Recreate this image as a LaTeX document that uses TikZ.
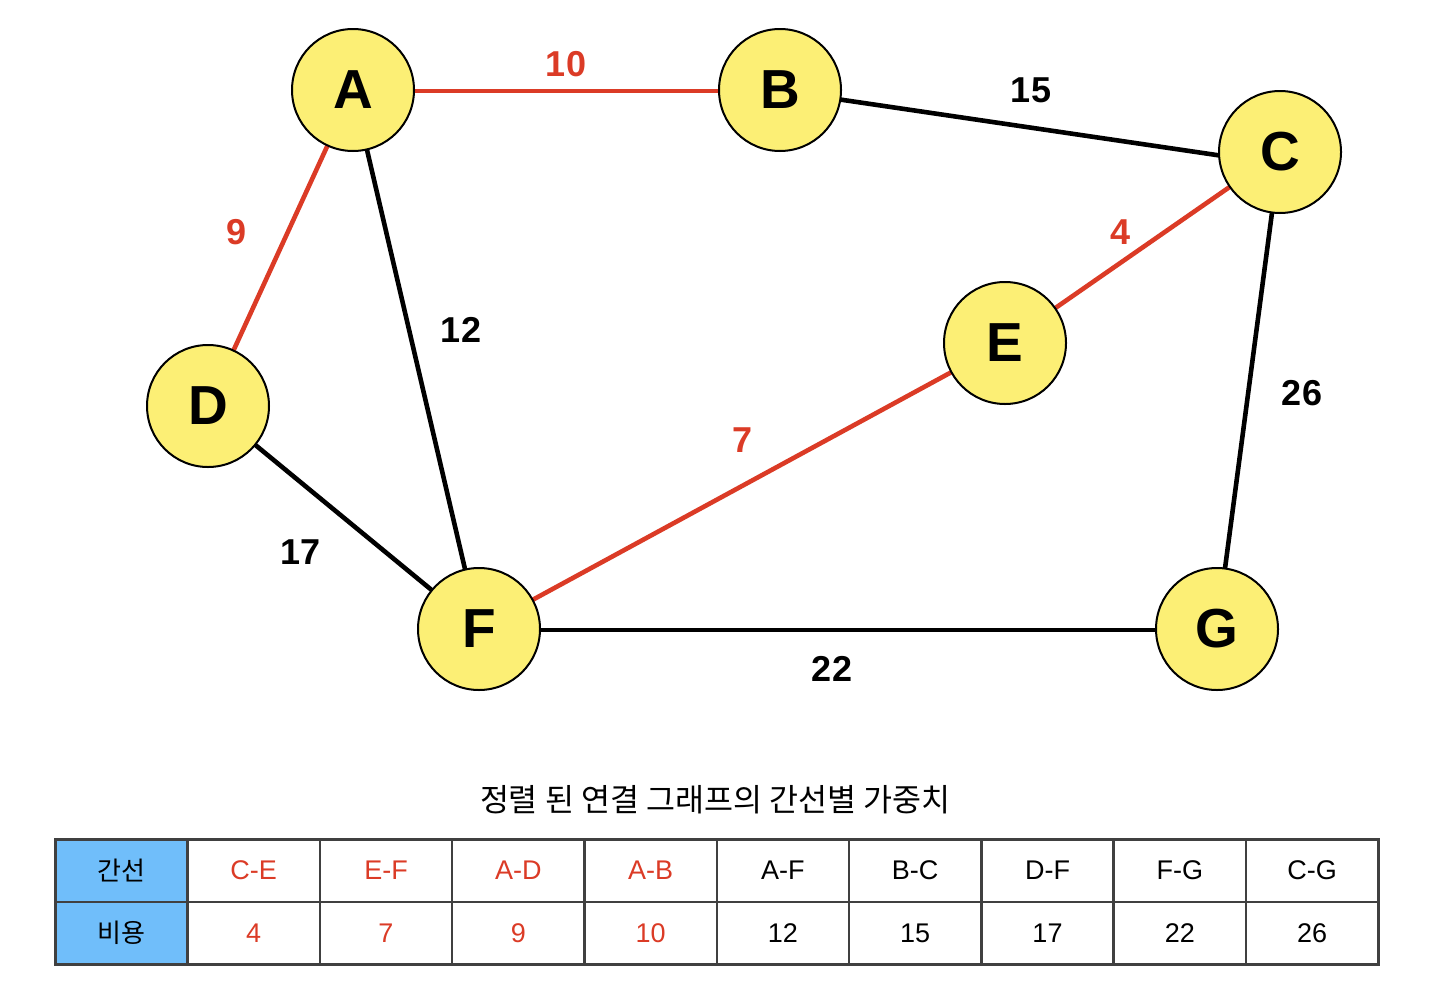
\documentclass[tikz,border=0pt]{standalone}
\usepackage{fontspec}
\setmainfont{Liberation Sans}
\newfontfamily\kr{Noto Sans CJK KR}
\usetikzlibrary{backgrounds}
\definecolor{nodeyellow}{RGB}{252,239,117}
\definecolor{edgered}{RGB}{219,59,38}
\definecolor{cellblue}{RGB}{112,190,250}
\definecolor{gridgray}{RGB}{64,64,64}
\begin{document}
\begin{tikzpicture}[x=1pt,y=-1pt,
  vertex/.style={circle,draw=black,line width=2pt,fill=nodeyellow,minimum size=122pt,inner sep=0pt,font=\fontsize{55}{55}\selectfont\bfseries},
  edgeblack/.style={draw=black,line width=4.6pt,shorten <=-1pt,shorten >=-1pt},
  edgered/.style={draw=edgered,line width=4.6pt,shorten <=-1pt,shorten >=-1pt},
  wlabel/.style={font=\fontsize{36}{36}\selectfont\bfseries,text=black,inner sep=0pt},
  wlabelred/.style={wlabel,text=edgered},
  cell/.style={draw=gridgray,line width=2.5pt,minimum width=132.3pt,minimum height=62.5pt,inner sep=0pt,font=\fontsize{27}{27}\selectfont,anchor=north west},
]
\useasboundingbox (0,0) rectangle (1442,1004);
% nodes
\node[vertex] (nA) at (353,90) {A};
\node[vertex] (nB) at (780,90) {B};
\node[vertex] (nC) at (1280,152) {C};
\node[vertex] (nD) at (208,406) {D};
\node[vertex] (nE) at (1005,343) {E};
\node[vertex] (nF) at (479,629) {F};
\node[vertex] (nG) at (1217,629) {G};
% edges
\begin{scope}[on background layer]
\path[edgered] (nA.-1.9) -- (nB.181.9);
\path[edgeblack] (nB.-9.5) -- (nC.183.7);
\path[edgered] (nC) -- (nE);
\path[edgered] (nA) -- (nD);
\path[edgeblack] (nA) -- (nF);
\path[edgered] (nE) -- (nF);
\path[edgeblack] (nC) -- (nG);
\path[edgeblack] (nD) -- (nF);
\path[edgeblack] (nF.-1.9) -- (nG.181.9);
\end{scope}
% weights
\node[wlabelred] (wAB) at (566,64) {10};
\node[wlabel] (wBC) at (1031,90) {15};
\node[wlabelred] (wCE) at (1120,232) {4};
\node[wlabelred] (wAD) at (237,232) {9};
\node[wlabel] (wAF) at (461,330) {12};
\node[wlabelred] (wEF) at (742,440) {7};
\node[wlabel] (wCG) at (1302,393) {26};
\node[wlabel] (wDF) at (301,552) {17};
\node[wlabel] (wFG) at (832,669) {22};
% title
\node[font=\kr\fontsize{31.5}{31.5}\selectfont] (title) at (715,800) {정렬 된 연결 그래프의 간선별 가중치};
% table
\node[cell,fill=cellblue,font=\kr\fontsize{26}{26}\selectfont] (h0) at (54,838) {간선};
\node[cell,fill=cellblue,font=\kr\fontsize{26}{26}\selectfont] (v0) at (54,900.5) {비용};
\foreach \i/\e/\w/\c in {1/C-E/4/edgered,2/E-F/7/edgered,3/A-D/9/edgered,4/A-B/10/edgered,5/A-F/12/black,6/B-C/15/black,7/D-F/17/black,8/F-G/22/black,9/C-G/26/black}{
  \node[cell,text=\c] (h\i) at ({54+132.3*\i},838) {\e};
  \node[cell,text=\c] (v\i) at ({54+132.3*\i},900.5) {\w};
}
\end{tikzpicture}
\end{document}
